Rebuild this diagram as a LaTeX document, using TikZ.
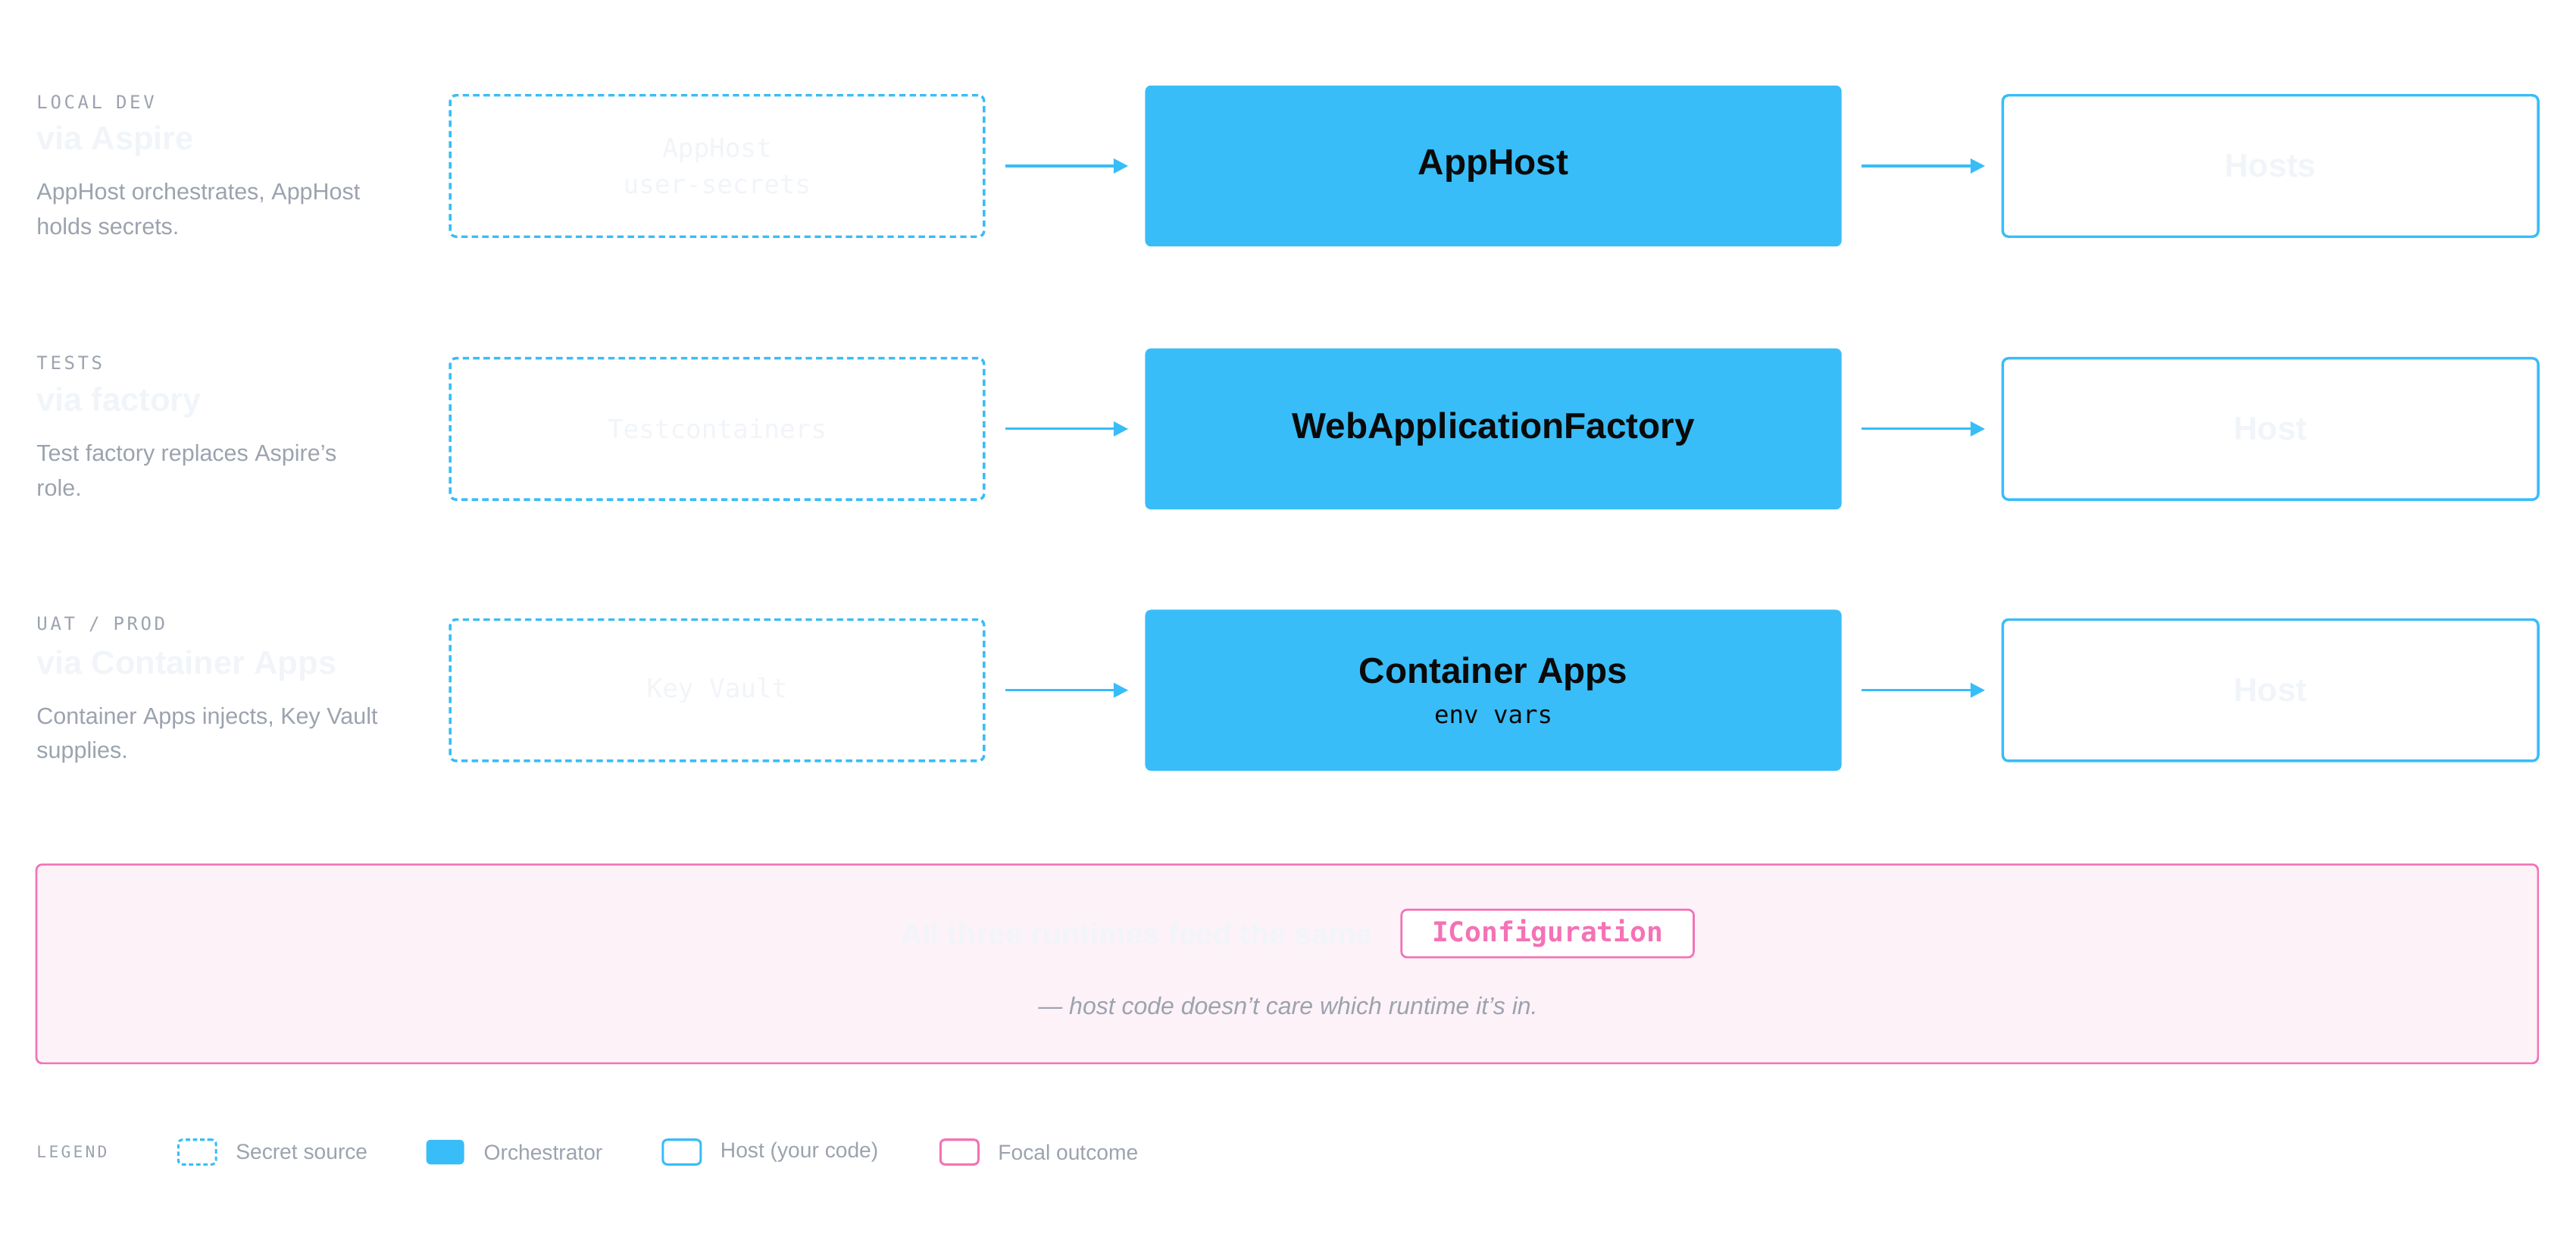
\documentclass[tikz,border=0pt]{standalone}
\usepackage{fontspec}
\setmainfont{Liberation Sans}
\setsansfont{Liberation Sans}
\setmonofont{DejaVu Sans Mono}
\newfontfamily\capsfont[LetterSpace=15]{DejaVu Sans Mono}
\usetikzlibrary{arrows.meta, positioning}
\definecolor{skyBlue}{RGB}{56, 189, 248}
\definecolor{textGray}{RGB}{156, 163, 175}
\definecolor{faintText}{RGB}{241, 245, 249}
\definecolor{focalPink}{RGB}{244, 114, 182}
\definecolor{focalFill}{RGB}{253, 242, 248}
\definecolor{textBlack}{RGB}{10, 10, 10}
\tikzset{
    rowTag/.style={
        anchor=west, inner sep=0pt,
        font=\capsfont\fontsize{6.3}{7}\selectfont,
        text=textGray
    },
    rowTitle/.style={
        anchor=west, inner sep=0pt,
        font=\bfseries\fontsize{11.4}{13}\selectfont,
        text=faintText
    },
    rowNote/.style={
        anchor=north west, inner sep=0pt, align=left,
        font=\fontsize{8}{12}\selectfont,
        text=textGray
    },
    secret/.style={
        rectangle, rounded corners=2pt,
        draw=skyBlue, line width=0.9pt, dash pattern=on 2.2pt off 1.4pt,
        minimum width=6.5cm, minimum height=1.72cm,
        align=center, text=faintText,
        font=\ttfamily\fontsize{9}{12.5}\selectfont
    },
    orch/.style={
        rectangle, rounded corners=2pt,
        fill=skyBlue, draw=none,
        minimum width=8.48cm, minimum height=1.96cm,
        align=center, text=textBlack,
        font=\bfseries\fontsize{12.5}{15}\selectfont
    },
    host/.style={
        rectangle, rounded corners=2pt,
        draw=skyBlue, line width=0.9pt,
        minimum width=6.52cm, minimum height=1.72cm,
        text=faintText,
        font=\bfseries\fontsize{11.4}{13}\selectfont
    },
    flow/.style={
        draw=skyBlue, line width=0.8pt,
        -{Triangle[length=5pt, width=5pt]}
    },
    legendIcon/.style={
        rectangle, rounded corners=1.5pt,
        minimum width=0.46cm, minimum height=0.3cm,
        line width=0.8pt, inner sep=0pt
    },
    legendText/.style={
        anchor=west, inner sep=0pt,
        font=\fontsize{7.4}{9}\selectfont,
        text=textGray
    }
}

\begin{document}
\begin{tikzpicture}[x=0.02cm, y=-0.02cm]
    \useasboundingbox[fill=white] (0,0) rectangle (1568,756);

    % Row labels
    \node[rowTag] (tagA) at (22,62) {LOCAL DEV};
    \node[rowTitle] (titleA) at (22,86) {via Aspire};
    \node[rowNote] (noteA) at (22,111) {AppHost orchestrates, AppHost\\holds secrets.};

    \node[rowTag] (tagB) at (22,221) {TESTS};
    \node[rowTitle] (titleB) at (22,245) {via factory};
    \node[rowNote] (noteB) at (22,270) {Test factory replaces Aspire's\\role.};

    \node[rowTag] (tagC) at (22,380) {UAT / PROD};
    \node[rowTitle] (titleC) at (22,405) {via Container Apps};
    \node[rowNote] (noteC) at (22,430) {Container Apps injects, Key Vault\\supplies.};

    % Secret sources
    \node[secret] (srcA) at (436.5,101) {AppHost\\user-secrets};
    \node[secret] (srcB) at (436.5,261) {Testcontainers};
    \node[secret] (srcC) at (436.5,420) {Key Vault};

    % Orchestrators
    \node[orch] (orchA) at (909,101) {AppHost};
    \node[orch] (orchB) at (909,261) {WebApplicationFactory};
    \node[orch] (orchC) at (909,420) {Container Apps\\[-1pt]{\mdseries\ttfamily\fontsize{8.5}{10}\selectfont env vars}};

    % Hosts
    \node[host] (hostA) at (1382,101) {Hosts};
    \node[host] (hostB) at (1382,261) {Host};
    \node[host] (hostC) at (1382,420) {Host};

    % Connections
    \foreach \r in {A,B,C}{
        \draw[flow] ([xshift=0.24cm]src\r.east) -- ([xshift=-0.2cm]orch\r.west);
        \draw[flow] ([xshift=0.24cm]orch\r.east) -- ([xshift=-0.2cm]host\r.west);
    }

    % Focal outcome
    \node[rectangle, rounded corners=2pt, fill=focalFill, draw=focalPink, line width=0.7pt,
          minimum width=30.46cm, minimum height=2.42cm] (focal) at (783.5,586.5) {};
    \node[inner sep=0pt, anchor=east, text=faintText, font=\bfseries\fontsize{10.6}{12}\selectfont]
        (focalText) at (836,568) {All three runtimes feed the same};
    \node[rectangle, rounded corners=2pt, draw=focalPink, line width=0.7pt, fill=white,
          text=focalPink, font=\ttfamily\bfseries\fontsize{9.5}{11}\selectfont,
          minimum width=3.56cm, minimum height=0.58cm] (iconf) at (942,568) {IConfiguration};
    \node[inner sep=0pt, text=textGray, font=\itshape\fontsize{8.4}{10}\selectfont]
        (focalNote) at (784,612) {--- host code doesn't care which runtime it's in.};

    % Legend
    \node[rowTag, font=\capsfont\fontsize{5.6}{7}\selectfont] (legend) at (22,701) {LEGEND};
    \node[legendIcon, draw=skyBlue, dash pattern=on 1.5pt off 1pt] (lgSecret) at (120,701) {};
    \node[legendText, right=0.22cm of lgSecret] (lgSecretText) {Secret source};
    \node[legendIcon, fill=skyBlue] (lgOrch) at (271,701) {};
    \node[legendText, right=0.22cm of lgOrch] (lgOrchText) {Orchestrator};
    \node[legendIcon, draw=skyBlue] (lgHost) at (415,701) {};
    \node[legendText, right=0.22cm of lgHost] (lgHostText) {Host (your code)};
    \node[legendIcon, draw=focalPink] (lgFocal) at (584,701) {};
    \node[legendText, right=0.22cm of lgFocal] (lgFocalText) {Focal outcome};
\end{tikzpicture}
\end{document}
